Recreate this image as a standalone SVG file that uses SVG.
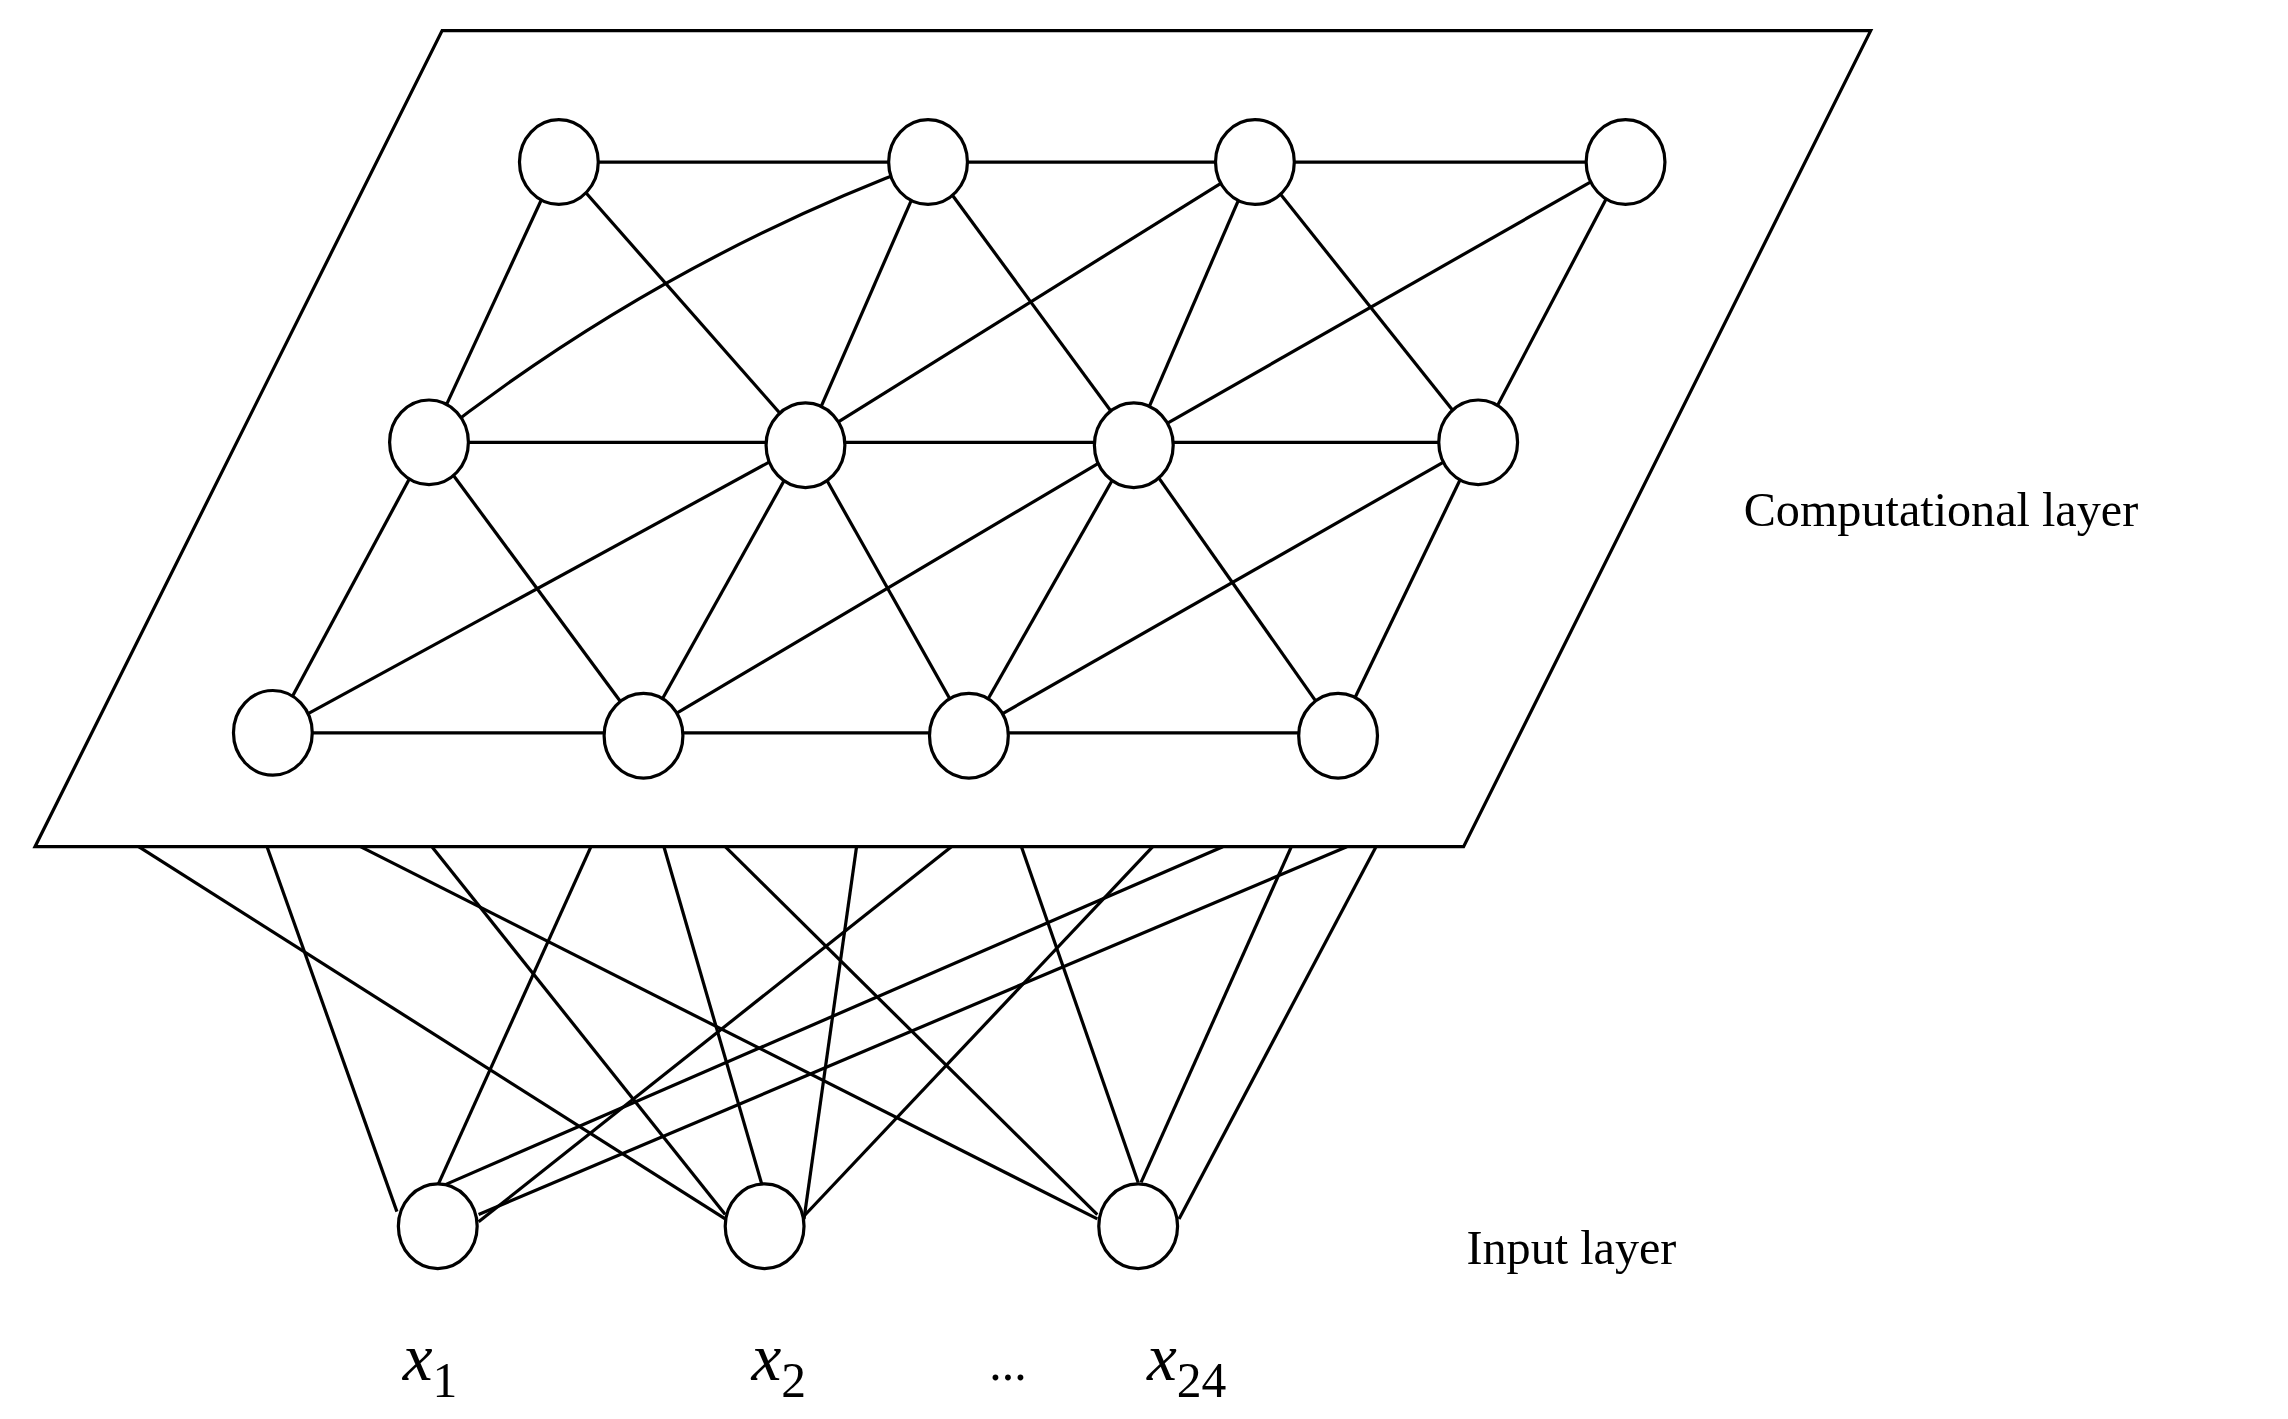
<svg xmlns="http://www.w3.org/2000/svg" width="2288" height="1419" viewBox="0 0 2288 1419">
<style>
.e{stroke:#000;stroke-width:2.2;fill:none}
.n{fill:#fff;stroke:#000;stroke-width:2.2}
.t{font-family:"Liberation Serif",serif;fill:#000}
</style>
<rect width="2288" height="1419" fill="#fff"/>
<g transform="scale(1.4592,1.4598)">
<g id="plane"><polygon points="303,21 1282,21 1003,580 24,580" class="n"/></g>
<g id="connectors">
<line class="e" x1="383" y1="111" x2="1114" y2="111"/>
<line class="e" x1="294" y1="303" x2="1013" y2="303"/>
<line class="e" x1="187" y1="502" x2="917" y2="502"/>
<line class="e" x1="383" y1="111" x2="294" y2="303"/>
<line class="e" x1="383" y1="111" x2="552" y2="303"/>
<path class="e" d="M636,111 Q450,180 294,303"/>
<line class="e" x1="636" y1="111" x2="552" y2="303"/>
<line class="e" x1="636" y1="111" x2="777" y2="303"/>
<line class="e" x1="860" y1="111" x2="552" y2="303"/>
<line class="e" x1="860" y1="111" x2="777" y2="303"/>
<line class="e" x1="860" y1="111" x2="1013" y2="303"/>
<line class="e" x1="1114" y1="111" x2="777" y2="303"/>
<line class="e" x1="1114" y1="111" x2="1013" y2="303"/>
<line class="e" x1="294" y1="303" x2="187" y2="502"/>
<line class="e" x1="294" y1="303" x2="441" y2="502"/>
<line class="e" x1="552" y1="303" x2="187" y2="502"/>
<line class="e" x1="552" y1="303" x2="441" y2="502"/>
<line class="e" x1="552" y1="303" x2="664" y2="502"/>
<line class="e" x1="777" y1="303" x2="441" y2="502"/>
<line class="e" x1="777" y1="303" x2="664" y2="502"/>
<line class="e" x1="777" y1="303" x2="917" y2="502"/>
<line class="e" x1="1013" y1="303" x2="664" y2="502"/>
<line class="e" x1="1013" y1="303" x2="917" y2="502"/>
<line class="e" x1="95" y1="580" x2="497" y2="835"/>
<line class="e" x1="183" y1="580" x2="272" y2="830"/>
<line class="e" x1="247" y1="580" x2="752" y2="835"/>
<line class="e" x1="296" y1="580" x2="497" y2="832"/>
<line class="e" x1="405" y1="580" x2="300" y2="812"/>
<line class="e" x1="455" y1="580" x2="522" y2="811"/>
<line class="e" x1="497" y1="580" x2="752" y2="832"/>
<line class="e" x1="587" y1="580" x2="551" y2="835"/>
<line class="e" x1="652" y1="580" x2="328" y2="837"/>
<line class="e" x1="700" y1="580" x2="780" y2="810"/>
<line class="e" x1="790" y1="580" x2="551" y2="833"/>
<line class="e" x1="838" y1="580" x2="304" y2="812"/>
<line class="e" x1="885" y1="580" x2="782" y2="810"/>
<line class="e" x1="923" y1="580" x2="328" y2="832"/>
<line class="e" x1="943" y1="580" x2="808" y2="835"/>
</g>
<g id="t1"><ellipse class="n" cx="383" cy="111" rx="27" ry="29"/></g>
<g id="t2"><ellipse class="n" cx="636" cy="111" rx="27" ry="29"/></g>
<g id="t3"><ellipse class="n" cx="860" cy="111" rx="27" ry="29"/></g>
<g id="t4"><ellipse class="n" cx="1114" cy="111" rx="27" ry="29"/></g>
<g id="m1"><ellipse class="n" cx="294" cy="303" rx="27" ry="29"/></g>
<g id="m2"><ellipse class="n" cx="552" cy="305" rx="27" ry="29"/></g>
<g id="m3"><ellipse class="n" cx="777" cy="305" rx="27" ry="29"/></g>
<g id="m4"><ellipse class="n" cx="1013" cy="303" rx="27" ry="29"/></g>
<g id="b1"><ellipse class="n" cx="187" cy="502" rx="27" ry="29"/></g>
<g id="b2"><ellipse class="n" cx="441" cy="504" rx="27" ry="29"/></g>
<g id="b3"><ellipse class="n" cx="664" cy="504" rx="27" ry="29"/></g>
<g id="b4"><ellipse class="n" cx="917" cy="504" rx="27" ry="29"/></g>
<g id="x1"><ellipse class="n" cx="300" cy="840" rx="27" ry="29"/></g>
<g id="x2"><ellipse class="n" cx="524" cy="840" rx="27" ry="29"/></g>
<g id="x24"><ellipse class="n" cx="780" cy="840" rx="27" ry="29"/></g>
<g id="labels">
<text class="t" x="1195" y="360" font-size="33">Computational layer</text>
<text class="t" x="1005" y="866" font-size="33">Input layer</text>
<text class="t" x="276" y="945" font-size="46" font-style="italic">x<tspan font-style="normal" font-size="34" dy="12">1</tspan></text>
<text class="t" x="515" y="945" font-size="46" font-style="italic">x<tspan font-style="normal" font-size="34" dy="12">2</tspan></text>
<text class="t" x="678" y="945" font-size="34">...</text>
<text class="t" x="786" y="945" font-size="46" font-style="italic">x<tspan font-style="normal" font-size="34" dy="12">24</tspan></text>
</g>
</g>
</svg>
